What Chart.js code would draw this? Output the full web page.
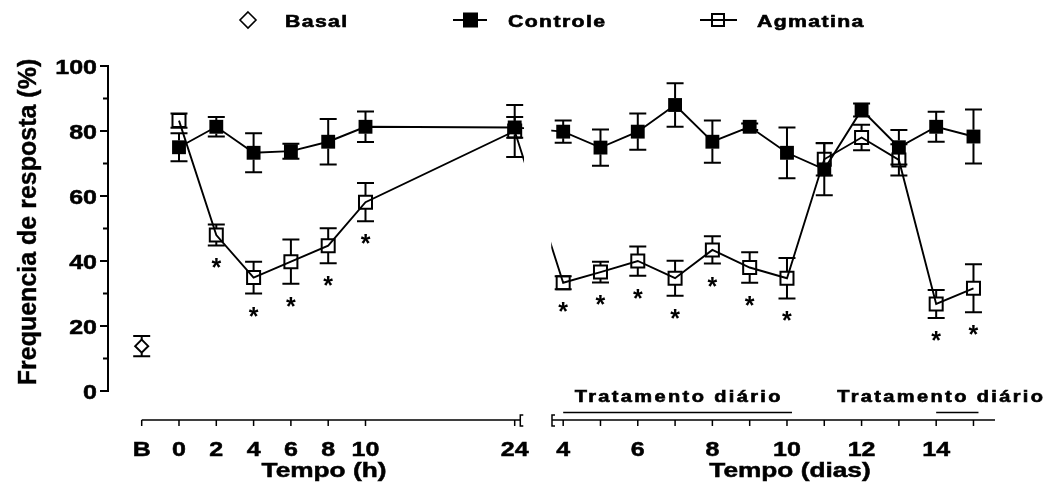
<!DOCTYPE html>
<html lang="pt">
<head>
<meta charset="UTF-8">
<title>Frequencia de resposta</title>
<script src="https://cdn.jsdelivr.net/npm/chart.js"></script>
<style>
  html, body { margin: 0; padding: 0; background: #fff; }
  #wrap { width: 1051px; height: 488px; }
</style>
</head>
<body>
<div id="wrap"><canvas id="grafico" width="1051" height="488"></canvas></div>
<script>
// eixo em horas (B = basal) e eixo em dias
const hourLabels = ['B', '0', '2', '4', '6', '8', '10', '24'];
const dayLabels = [4, 5, 6, 7, 8, 9, 10, 11, 12, 13, 14, 15];
const dayTickLabels = [4, 6, 8, 10, 12, 14];
const yTicks = [0, 10, 20, 30, 40, 50, 60, 70, 80, 90, 100];

// medias e EPM
const basalMedia = [13.8];
const basalEpm = [3.1];

const controleHoras = [75, 81.3, 73.3, 73.8, 76.7, 81.3, 81.1];     // 0 a 24 h
const controleHorasEpm = [4.3, 3, 6, 2.3, 7, 4.7, 3.2];
const agmatinaHoras = [83.2, 48, 34.9, 39.8, 44.7, 58.1, 80];
const agmatinaHorasEpm = [2.2, 3.2, 4.9, 6.8, 5.4, 5.9, 8];
const agmatinaHorasSig = [false, true, true, true, true, true, false];

const controleDias = [79.8, 74.9, 79.8, 88, 76.7, 81.3, 73.3, 68.2, 86.5, 75, 81.3, 78.3];
const controleDiasEpm = [3.4, 5.6, 5.6, 6.7, 6.5, 1, 7.8, 8, 2, 5.3, 4.6, 8.3];
const agmatinaDias = [33.3, 36.6, 40, 34.7, 43.4, 38, 34.7, 71.3, 78, 71.1, 26.8, 31.6];
const agmatinaDiasEpm = [2, 3.2, 4.5, 5.4, 4.2, 4.7, 6.2, 5, 3.9, 4.8, 4.3, 7.4];
const agmatinaDiasSig = [true, true, true, true, true, true, true, false, false, false, true, true];

// periodos de tratamento diario (dias)
const tratamentos = [[4, 10], [14, 15]];

// posicoes no eixo x: horas por indice, com 3 casas vazias antes de 24 h;
// dias deslocados para depois da quebra
const HOUR_GAP = 3;
const DAY_OFFSET = 7.3;
const hourPos = i => i + (hourLabels[i] === '24' ? HOUR_GAP : 0);
const dayPos = d => d + DAY_OFFSET;
const LEFT_END = 10.15, BREAK_FROM = 10.25, BREAK_TO = 10.98, RIGHT_START = 11.0;

function serie(horas, dias) {
  const pts = horas.map((v, i) => ({ x: hourPos(i + 1), y: v }));
  return pts.concat(dias.map((v, i) => ({ x: dayPos(dayLabels[i]), y: v })));
}

const FONT = '"Liberation Sans", Arial, sans-serif';

function drawText(ctx, text, x, y, o) {
  const size = o.size || 20, stretch = o.stretch || 1, spacing = o.spacing || 0;
  ctx.save();
  ctx.font = (o.weight || 'bold') + ' ' + size + 'px ' + FONT;
  ctx.letterSpacing = spacing + 'px';
  ctx.textAlign = 'left';
  ctx.textBaseline = 'alphabetic';
  ctx.fillStyle = '#000';
  ctx.strokeStyle = '#000';
  const w = ctx.measureText(text).width - spacing;
  ctx.translate(x, y);
  ctx.scale(stretch, 1);
  const dx = o.align === 'center' ? -w / 2 : o.align === 'right' ? -w : 0;
  ctx.fillText(text, dx, 0);
  if (o.heavy) {
    // engrossa um pouco o traco
    ctx.lineWidth = o.heavy;
    ctx.strokeText(text, dx, 0);
  }
  ctx.restore();
  return w * stretch;
}

const barras = {
  id: 'barras',
  beforeDraw(chart) {
    const ctx = chart.ctx;
    ctx.save();
    ctx.fillStyle = '#fff';
    ctx.fillRect(0, 0, chart.width, chart.height);
    ctx.restore();
  },
  // barras de erro por baixo dos marcadores, saindo da borda do simbolo
  beforeDatasetsDraw(chart) {
    const ctx = chart.ctx, ys = chart.scales.y;
    ctx.save();
    ctx.strokeStyle = '#000';
    ctx.lineWidth = 2;
    chart.data.datasets.forEach((ds, k) => {
      const meta = chart.getDatasetMeta(k);
      meta.data.forEach((el, i) => {
        const v = ds.data[i].y, e = ds.epm[i];
        const half = ds.half;
        const top = ys.getPixelForValue(v + e), bot = ys.getPixelForValue(v - e);
        ctx.beginPath();
        if (top < el.y - half) { ctx.moveTo(el.x, el.y - half); ctx.lineTo(el.x, top); }
        if (bot > el.y + half) { ctx.moveTo(el.x, el.y + half); ctx.lineTo(el.x, bot); }
        ctx.moveTo(el.x - 8.5, top); ctx.lineTo(el.x + 8.5, top);
        ctx.moveTo(el.x - 8.5, bot); ctx.lineTo(el.x + 8.5, bot);
        ctx.stroke();
      });
    });
    ctx.restore();
  },
  afterDatasetsDraw(chart) {
    const ctx = chart.ctx, xs = chart.scales.x, ys = chart.scales.y, area = chart.chartArea;
    // quebra do eixo entre 24 h e o dia 4
    ctx.save();
    ctx.fillStyle = '#fff';
    const x0 = xs.getPixelForValue(BREAK_FROM), x1 = xs.getPixelForValue(BREAK_TO);
    ctx.fillRect(x0, area.top - 10, x1 - x0, area.bottom - area.top);
    ctx.restore();

    // asteriscos de significancia sob a Agmatina
    const ds = chart.data.datasets[2], meta = chart.getDatasetMeta(2);
    meta.data.forEach((el, i) => {
      if (!ds.sig[i]) return;
      const bot = ys.getPixelForValue(ds.data[i].y - ds.epm[i]);
      drawText(ctx, '*', el.x, bot + 17 + 14, { size: 25, align: 'center' });
    });
  },
  afterDraw(chart) {
    const ctx = chart.ctx, xs = chart.scales.x, ys = chart.scales.y, area = chart.chartArea;
    ctx.save();
    ctx.strokeStyle = '#000';
    ctx.fillStyle = '#000';

    // eixo y
    const yAxis = area.left;
    ctx.lineWidth = 2;
    ctx.beginPath();
    ctx.moveTo(yAxis, ys.getPixelForValue(0) + 1);
    ctx.lineTo(yAxis, ys.getPixelForValue(100) - 1);
    yTicks.forEach(t => {
      const py = ys.getPixelForValue(t);
      ctx.moveTo(yAxis, py);
      ctx.lineTo(yAxis - (t % 20 === 0 ? 8 : 5), py);
    });
    ctx.stroke();
    yTicks.filter(t => t % 20 === 0).forEach(t => {
      drawText(ctx, String(t), 97, ys.getPixelForValue(t) + 1 + 7.2, { size: 20, stretch: 1.25, align: 'right', heavy: 0.5 });
    });

    // eixo x em dois segmentos
    const axY = area.bottom;
    ctx.lineWidth = 1.5;
    ctx.beginPath();
    ctx.moveTo(xs.getPixelForValue(0), axY);
    ctx.lineTo(xs.getPixelForValue(LEFT_END), axY);
    ctx.moveTo(xs.getPixelForValue(RIGHT_START), axY);
    ctx.lineTo(area.right, axY);
    hourLabels.forEach((l, i) => {
      const px = xs.getPixelForValue(hourPos(i));
      ctx.moveTo(px, axY); ctx.lineTo(px, axY + 6);
    });
    dayLabels.forEach(d => {
      const px = xs.getPixelForValue(dayPos(d));
      ctx.moveTo(px, axY); ctx.lineTo(px, axY + 6);
    });
    // marcas de quebra
    [xs.getPixelForValue(LEFT_END), xs.getPixelForValue(RIGHT_START)].forEach(px => {
      ctx.moveTo(px + 3, axY - 5); ctx.lineTo(px, axY - 5); ctx.lineTo(px, axY + 6); ctx.lineTo(px + 3, axY + 6);
    });
    ctx.stroke();

    hourLabels.forEach((l, i) => {
      drawText(ctx, l, xs.getPixelForValue(hourPos(i)), 455.5, { size: 20, stretch: 1.25, align: 'center', heavy: 0.5 });
    });
    dayTickLabels.forEach(d => {
      drawText(ctx, String(d), xs.getPixelForValue(dayPos(d)), 455.5, { size: 20, stretch: 1.25, align: 'center', heavy: 0.5 });
    });
    drawText(ctx, 'Tempo (h)', 324, 477, { size: 21, stretch: 1.25, align: 'center', heavy: 0.5 });
    drawText(ctx, 'Tempo (dias)', 790, 477, { size: 21, stretch: 1.25, align: 'center', heavy: 0.5 });

    // titulo do eixo y
    ctx.save();
    ctx.translate(36, 222);
    ctx.rotate(-Math.PI / 2);
    drawText(ctx, 'Frequencia de resposta (%)', 0, 0, { size: 25, align: 'center', heavy: 0.4 });
    ctx.restore();

    // tratamento diario
    tratamentos.forEach(([a, b]) => {
      const pa = xs.getPixelForValue(dayPos(a)), pb = xs.getPixelForValue(dayPos(b)) + 5;
      ctx.lineWidth = 1.5;
      ctx.beginPath();
      ctx.moveTo(pa, 412.5); ctx.lineTo(pb, 412.5);
      ctx.stroke();
      ctx.save();
      ctx.font = 'bold 16px ' + FONT;
      ctx.letterSpacing = '1.9px';
      const w = (ctx.measureText('Tratamento diário').width - 1.9) * 1.25;
      ctx.restore();
      const left = Math.min((pa + pb) / 2 - w / 2, chart.width - 8 - w);
      drawText(ctx, 'Tratamento diário', left, 402, { size: 16, stretch: 1.25, spacing: 1.9, heavy: 0.6 });
    });

    // legenda
    const ly = 20;
    ctx.lineWidth = 1.6;
    ctx.beginPath();
    ctx.moveTo(248, ly - 8); ctx.lineTo(256, ly); ctx.lineTo(248, ly + 8); ctx.lineTo(240, ly); ctx.closePath();
    ctx.stroke();
    drawText(ctx, 'Basal', 285, 27, { size: 17, stretch: 1.25, spacing: 1.1, heavy: 0.6 });

    ctx.lineWidth = 2;
    ctx.beginPath(); ctx.moveTo(453, ly); ctx.lineTo(487, ly); ctx.stroke();
    ctx.fillRect(463, ly - 7.5, 15, 15);
    drawText(ctx, 'Controle', 508, 27, { size: 17, stretch: 1.25, spacing: 1.1, heavy: 0.6 });

    ctx.beginPath(); ctx.moveTo(700, ly); ctx.lineTo(737, ly); ctx.stroke();
    ctx.strokeRect(712, ly - 6, 12, 12);
    drawText(ctx, 'Agmatina', 757, 27, { size: 17, stretch: 1.25, spacing: 1.1, heavy: 0.6 });

    ctx.restore();
  }
};

new Chart(document.getElementById('grafico'), {
  type: 'line',
  data: {
    datasets: [
      {
        label: 'Basal',
        data: basalMedia.map(v => ({ x: hourPos(0), y: v })),
        epm: basalEpm,
        half: 6.5,
        showLine: false,
        pointStyle: 'rectRot',
        pointRadius: 6.5,
        pointBorderWidth: 2,
        pointBorderColor: '#000',
        pointBackgroundColor: '#fff',
        order: 2
      },
      {
        label: 'Controle',
        data: serie(controleHoras, controleDias),
        epm: controleHorasEpm.concat(controleDiasEpm),
        half: 6.7,
        borderColor: '#000',
        borderWidth: 1.9,
        pointStyle: 'rect',
        pointRadius: 9.8,
        pointBorderWidth: 0,
        pointBackgroundColor: '#000',
        pointBorderColor: '#000',
        order: 0
      },
      {
        label: 'Agmatina',
        data: serie(agmatinaHoras, agmatinaDias),
        epm: agmatinaHorasEpm.concat(agmatinaDiasEpm),
        sig: agmatinaHorasSig.concat(agmatinaDiasSig),
        half: 6.5,
        borderColor: '#000',
        borderWidth: 1.9,
        pointStyle: 'rect',
        pointRadius: 9.2,
        pointBorderWidth: 2,
        pointBackgroundColor: 'rgba(0,0,0,0)',
        pointBorderColor: '#000',
        order: 1
      }
    ]
  },
  options: {
    responsive: false,
    animation: false,
    layout: { padding: { left: 108, right: 56, top: 66, bottom: 68 } },
    plugins: { legend: { display: false }, tooltip: { enabled: false } },
    scales: {
      x: { type: 'linear', display: false, min: -0.9035, max: 22.877 },
      y: { type: 'linear', display: false, min: -8.92, max: 100 }
    }
  },
  plugins: [barras]
});
</script>
</body>
</html>
